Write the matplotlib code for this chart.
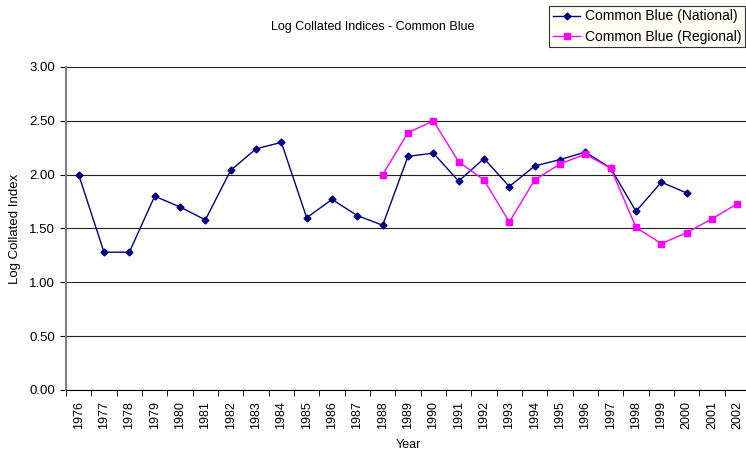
import numpy as np
import matplotlib
matplotlib.use("Agg")
import matplotlib.pyplot as plt

plt.rcParams['font.family'] = ['Liberation Sans', 'DejaVu Sans']

years = list(range(1976, 2003))
national = [2.00, 1.28, 1.28, 1.80, 1.70, 1.58, 2.04, 2.24, 2.30, 1.60,
            1.77, 1.62, 1.53, 2.17, 2.20, 1.94, 2.15, 1.89, 2.08, 2.14,
            2.21, 2.06, 1.66, 1.93, 1.83]
regional_years = list(range(1988, 2003))
regional = [2.00, 2.39, 2.50, 2.12, 1.95, 1.56, 1.95, 2.10, 2.19, 2.06,
            1.51, 1.36, 1.46, 1.59, 1.73]

fig = plt.figure(figsize=(7.46, 4.55), dpi=100)
ax = fig.add_axes([66 / 746, 65 / 455, 684 / 746, 323 / 455])

x_nat = [years.index(y) for y in years[:len(national)]]
x_reg = [years.index(y) for y in regional_years]

ax.plot(x_nat, national, color='#000080', marker='D', markersize=3.5,
        linewidth=1, label='Common Blue (National)', zorder=3)
ax.plot(x_reg, regional, color='#FF00FF', marker='s', markersize=4.5,
        linewidth=1, label='Common Blue (Regional)', zorder=3)

ax.set_xlim(-0.5, len(years) - 0.5)
ax.set_ylim(0, 3)
ax.set_yticks(np.arange(0, 3.01, 0.5))
ax.set_yticklabels(['%.2f' % v for v in np.arange(0, 3.01, 0.5)], fontsize=9.5)
ax.set_xticks(range(len(years)))
ax.set_xticklabels([str(y) for y in years], rotation=90, fontsize=9)
ax.set_xticks(np.arange(-0.5, len(years), 1), minor=True)
ax.tick_params(axis='x', which='major', length=0, pad=8)
ax.tick_params(axis='x', which='minor', length=4, direction='out', color='black')
ax.tick_params(axis='y', length=4, direction='out', color='black', pad=4)

ax.grid(axis='y', color='#222222', linewidth=0.8)
ax.set_axisbelow(True)
for side in ['top', 'right']:
    ax.spines[side].set_visible(False)
ax.spines['left'].set_color('#808080')
ax.spines['left'].set_linewidth(1.5)
ax.spines['bottom'].set_color('black')

ax.set_xlabel('Year', fontsize=9, labelpad=7)
ax.set_ylabel('Log Collated Index', fontsize=9.5, labelpad=6)
fig.text(373 / 746, 1 - 27 / 455, 'Log Collated Indices - Common Blue',
         ha='center', va='center', fontsize=9)

leg = fig.legend(loc='upper right', bbox_to_anchor=(1.0, 0.99), fontsize=10,
                 frameon=True, fancybox=False, handlelength=2.0,
                 borderpad=0.25, labelspacing=0.45, handletextpad=0.3,
                 borderaxespad=0.1)
leg.get_frame().set_edgecolor('black')
leg.get_frame().set_facecolor('#FFFFF4')
leg.get_frame().set_linewidth(0.8)

fig.savefig('out.png', dpi=100)
